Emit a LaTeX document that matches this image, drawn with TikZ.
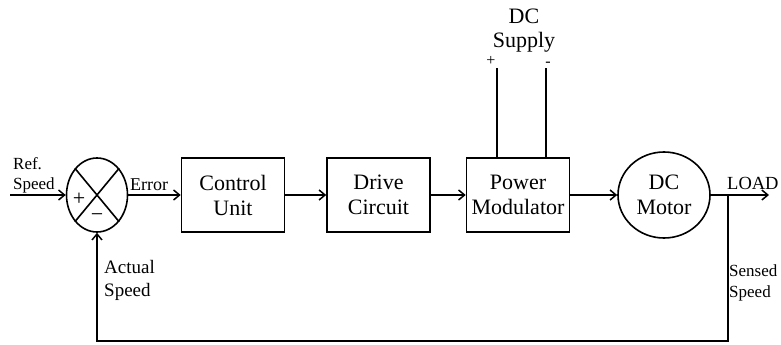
\documentclass[tikz,border=0pt]{standalone}
\usepackage{fontspec}
\setmainfont{Liberation Serif}
\usetikzlibrary{shapes.geometric,arrows.meta}
\begin{document}
\begin{tikzpicture}[x=1pt,y=-1pt,
  line/.style={line width=1.6pt},
  arr/.style={line, -{Straight Barb[length=6pt,width=10pt,line width=1.5pt]}},
  blk/.style={draw, line width=1.6pt, minimum width=103pt, minimum height=74pt, inner sep=0pt, align=center, font=\fontsize{22}{25}\selectfont},
  circ/.style={draw, ellipse, line width=1.6pt, inner sep=0pt, align=center, font=\fontsize{22}{25}\selectfont},
  lbl/.style={inner sep=0pt, align=left}]
\useasboundingbox (0,0) rectangle (781,345);
% summing junction
\node[circ, minimum width=61pt, minimum height=74pt] (sum) at (97,195) {};
\draw[line] (sum.north west) -- (sum.south east);
\draw[line] (sum.north east) -- (sum.south west);
\node[inner sep=0pt, font=\fontsize{22}{22}\selectfont] (plus) at (79,199) {+};
\node[inner sep=0pt, font=\fontsize{22}{22}\selectfont] (minus) at (97,218) {−};
% blocks
\node[blk] (cu) at (233,195) {Control\\Unit};
\node[blk] (dcirc) at (378.5,195) {Drive\\Circuit};
\node[blk] (pm) at (518,195) {Power\\Modulator};
\node[circ, minimum width=92pt, minimum height=86pt] (mot) at (664,195) {DC\\Motor};
% coordinates
\coordinate (in) at (10,195);
\coordinate (br) at (728,195);
\coordinate (out) at (769,195);
\coordinate (bl) at (728,341);
\coordinate (sp) at (497,68);
\coordinate (sm) at (546,68);
% connectors
\draw[arr] (in) -- (sum.west);
\draw[arr] (sum.east) -- (cu.west);
\draw[arr] (cu.east) -- (dcirc.west);
\draw[arr] (dcirc.east) -- (pm.west);
\draw[arr] (pm.east) -- (mot.west);
\draw[arr] (mot.east) -- (out);
\draw[arr] (br) -- (bl) -- (sum.south |- bl) -- (sum.south);
\draw[line] (sp) -- (sp |- pm.north);
\draw[line] (sm) -- (sm |- pm.north);
% labels
\node[lbl, anchor=west, font=\fontsize{17}{20}\selectfont] (ref) at (13,175) {Ref.\\Speed};
\node[lbl, anchor=base west, font=\fontsize{18}{18}\selectfont] (err) at (130,190) {Error};
\node[lbl, anchor=west, font=\fontsize{19}{23}\selectfont] (act) at (104,280) {Actual\\Speed};
\node[lbl, anchor=west, font=\fontsize{17}{21}\selectfont] (sens) at (729,283) {Sensed\\Speed};
\node[lbl, anchor=base west, font=\fontsize{18.5}{18.5}\selectfont] (load) at (727,189) {LOAD};
\node[inner sep=0pt, align=center, font=\fontsize{22}{24}\selectfont] (sup) at (524,31) {DC\\Supply};
\node[inner sep=0pt, font=\fontsize{16}{16}\selectfont] (pl) at (491,61) {+};
\node[inner sep=0pt, font=\fontsize{16}{16}\selectfont] (mi) at (548,64) {-};
\end{tikzpicture}
\end{document}
